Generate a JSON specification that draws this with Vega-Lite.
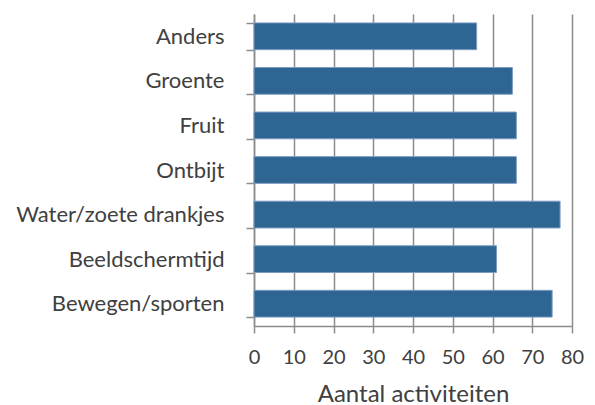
{
  "$schema": "https://vega.github.io/schema/vega-lite/v6.json",
  "autosize": {"type": "none"},
  "padding": {"left": 254, "top": 14, "right": 23, "bottom": 79},
  "width": 318,
  "height": 312,
  "background": "white",
  "data": {
    "values": [
      {"categorie": "Anders", "aantal": 56},
      {"categorie": "Groente", "aantal": 65},
      {"categorie": "Fruit", "aantal": 66},
      {"categorie": "Ontbijt", "aantal": 66},
      {"categorie": "Water/zoete drankjes", "aantal": 77},
      {"categorie": "Beeldschermtijd", "aantal": 61},
      {"categorie": "Bewegen/sporten", "aantal": 75}
    ]
  },
  "config": {
    "view": {"stroke": null},
    "font": "Lato"
  },
  "mark": {"type": "bar", "color": "#2E6593", "stroke": "#7A9CC2", "strokeWidth": 1},
  "encoding": {
    "y": {
      "field": "categorie",
      "type": "nominal",
      "sort": null,
      "scale": {"paddingInner": 0.4, "paddingOuter": 0.2},
      "axis": {
        "title": null,
        "tickBand": "extent",
        "tickSize": 8,
        "tickColor": "#8C8C8C",
        "tickWidth": 1.5,
        "domainColor": "#8C8C8C",
        "domainWidth": 1.5,
        "labelFontSize": 22,
        "labelColor": "#404040",
        "labelPadding": 22,
        "labelLimit": 300,
        "grid": false
      }
    },
    "x": {
      "field": "aantal",
      "type": "quantitative",
      "scale": {"domain": [0, 80], "nice": false},
      "axis": {
        "title": "Aantal activiteiten",
        "titleFontSize": 24,
        "titleFontWeight": "normal",
        "titleColor": "#404040",
        "titlePadding": 15,
        "values": [0, 10, 20, 30, 40, 50, 60, 70, 80],
        "tickSize": 7,
        "tickColor": "#8C8C8C",
        "tickWidth": 1.5,
        "domainColor": "#8C8C8C",
        "domainWidth": 1.5,
        "labelFontSize": 20,
        "labelColor": "#404040",
        "labelPadding": 14,
        "labelFlush": false,
        "labelOverlap": false,
        "grid": true,
        "gridColor": "#8C8C8C",
        "gridWidth": 1.5
      }
    }
  }
}
